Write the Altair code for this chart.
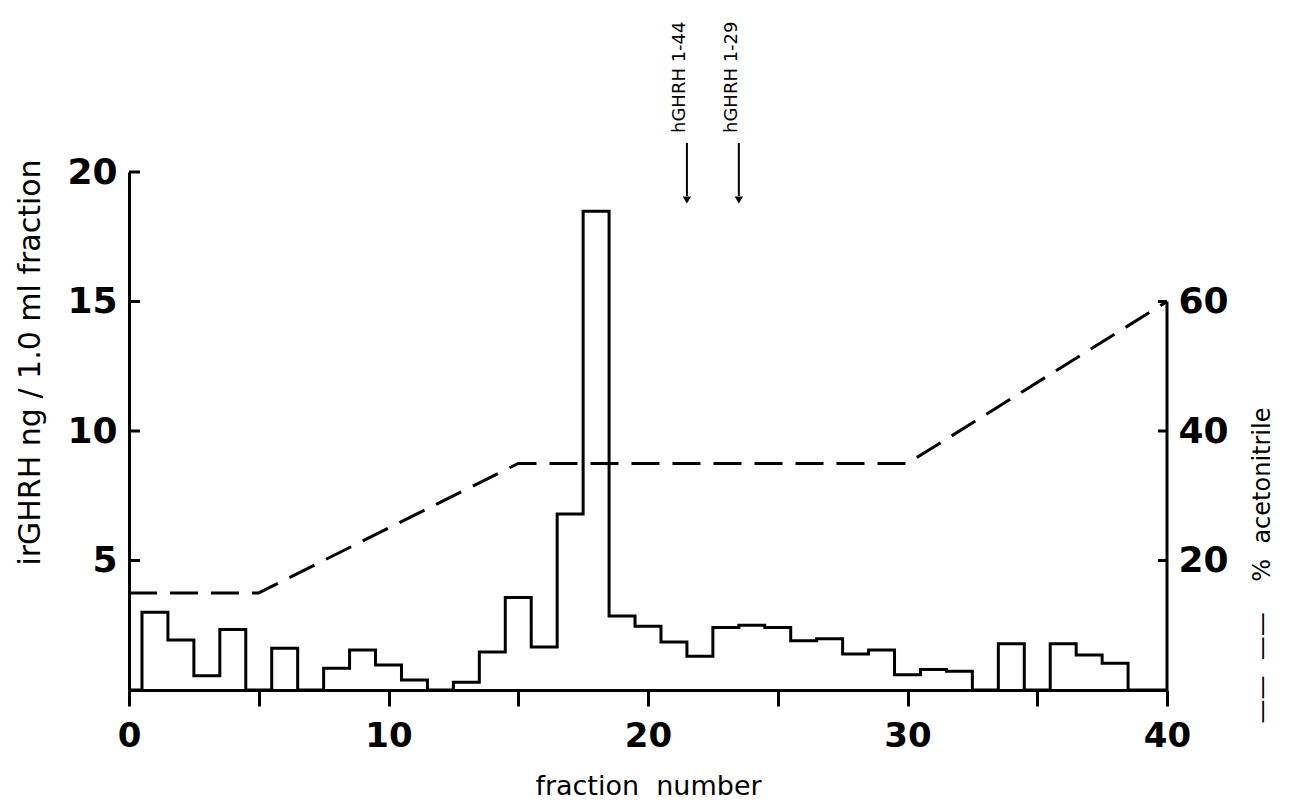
import altair as alt
import pandas as pd

# ---- data ----
fractions = list(range(0, 41))
irghrh = [0, 3.0, 1.93, 0.55, 2.34, 0, 1.61, 0, 0.84, 1.54, 0.97, 0.39, 0, 0.3,
          1.47, 3.57, 1.66, 6.8, 18.48, 2.86, 2.46, 1.85, 1.3, 2.41, 2.5, 2.41,
          1.9, 1.98, 1.39, 1.54, 0.59, 0.79, 0.72, 0, 1.79, 0, 1.79, 1.35, 1.03, 0, 0]
grad_fraction = [0, 5, 15, 30, 40]
grad_acetonitrile = [15, 15, 35, 35, 60]
marker_fraction = [21.5, 23.5]
marker_label = ["hGHRH 1-44", "hGHRH 1-29"]
x_ticks = [0, 5, 10, 15, 20, 25, 30, 35, 40]
left_ticks = [5, 10, 15, 20]
right_ticks = [20, 40, 60]

NB = "\u00a0"
x_title = "fraction" + NB * 2 + "number"
left_title = "irGHRH ng / 1.0 ml fraction"
right_title = "——" + NB * 2 + "——" + NB * 4 + "%" + NB * 2 + "acetonitrile"

# ---- layout / style ----
W, H = 1038, 518
FONT = "DejaVu Sans"
INK = "black"

hist_df = pd.DataFrame({"fraction": fractions, "irghrh": irghrh})
grad_df = pd.DataFrame({"fraction": grad_fraction, "acetonitrile": grad_acetonitrile})
marker_df = pd.DataFrame({"fraction": marker_fraction, "label": marker_label})
lt_df = pd.DataFrame({"v": left_ticks})
rt_df = pd.DataFrame({"v": right_ticks})
rline_df = pd.DataFrame({"lo": [0], "hi": [max(right_ticks)]})


def xs():
    return alt.Scale(domain=[0, 40], nice=False, zero=False)


def ls():
    return alt.Scale(domain=[0, 20], nice=False)


def rs():
    return alt.Scale(domain=[0, 80], nice=False)


def xaxis():
    return alt.Axis(
        values=x_ticks, labelExpr="datum.value % 10 == 0 ? datum.label : ''",
        tickSize=16, tickWidth=3, tickColor=INK, domainWidth=3, domainColor=INK,
        labelFont=FONT, labelFontWeight="bold", labelFontSize=34, labelColor=INK,
        labelPadding=13, labelFlush=False, grid=False,
        title=x_title, titleFont=FONT, titleFontWeight="normal",
        titleFontSize=27, titleColor=INK, titleY=96, titleBaseline="middle")


def X():
    return alt.X("fraction:Q", scale=xs(), axis=xaxis(), title=x_title)


hist = alt.Chart(hist_df).mark_line(
    interpolate="step", color=INK, strokeWidth=3, strokeJoin="miter"
).encode(
    x=X(),
    y=alt.Y("irghrh:Q", scale=ls(), axis=alt.Axis(
        values=left_ticks, tickSize=0, domainWidth=3, domainColor=INK,
        labelFont=FONT, labelFontWeight="bold", labelFontSize=36, labelColor=INK,
        labelPadding=12, labelFlush=False, grid=False,
        title=left_title, titleFont=FONT, titleFontWeight="normal",
        titleFontSize=30, titleColor=INK, titleAngle=270, titleX=-99, titleY=190,
        titleAlign="center", titleBaseline="middle")),
)

left_tick_marks = alt.Chart(lt_df).mark_rule(color=INK, strokeWidth=3).encode(
    x=alt.value(0), x2=alt.value(11), y=alt.Y("v:Q", scale=ls(), axis=None))

arrow_shafts = alt.Chart(marker_df).mark_rule(color=INK, strokeWidth=2).encode(
    x=X(), y=alt.value(-29), y2=alt.value(24))
arrow_heads = alt.Chart(marker_df).mark_point(
    shape="triangle-down", filled=True, size=70, color=INK, opacity=1).encode(
    x=X(), y=alt.value(28))
arrow_text = alt.Chart(marker_df).mark_text(
    angle=270, align="left", baseline="middle", fontSize=18, font=FONT,
    color=INK, dy=-7).encode(
    x=X(), y=alt.value(-39), text="label:N")

grad = alt.Chart(grad_df).mark_line(
    color=INK, strokeWidth=3, strokeDash=[28, 13]).encode(
    x=X(),
    y=alt.Y("acetonitrile:Q", scale=rs(), axis=alt.Axis(
        orient="right", values=right_ticks, tickSize=0, domain=False,
        labelFont=FONT, labelFontWeight="bold", labelFontSize=36, labelColor=INK,
        labelPadding=11, labelFlush=False, grid=False,
        title=right_title, titleFont=FONT, titleFontWeight="normal",
        titleFontSize=24, titleColor=INK, titleAngle=270, titleX=95, titleY=393,
        titleAlign="center", titleBaseline="middle")),
)
right_line = alt.Chart(rline_df).mark_rule(color=INK, strokeWidth=3).encode(
    x=alt.value(W), y=alt.Y("lo:Q", scale=rs(), axis=None), y2="hi:Q")
right_tick_marks = alt.Chart(rt_df).mark_rule(color=INK, strokeWidth=3).encode(
    x=alt.value(W - 9), x2=alt.value(W), y=alt.Y("v:Q", scale=rs(), axis=None))

chart = alt.layer(
    hist, left_tick_marks, arrow_shafts, arrow_heads, arrow_text,
    grad, right_line, right_tick_marks
).resolve_scale(y="independent").properties(
    width=W, height=H,
    padding={"left": 121, "top": 164, "right": 108, "bottom": 112},
    autosize=alt.AutoSizeParams(type="none"),
    background="white",
).configure_view(strokeWidth=0)

chart.save("out.html", embed_options={"renderer": "svg", "actions": False})
